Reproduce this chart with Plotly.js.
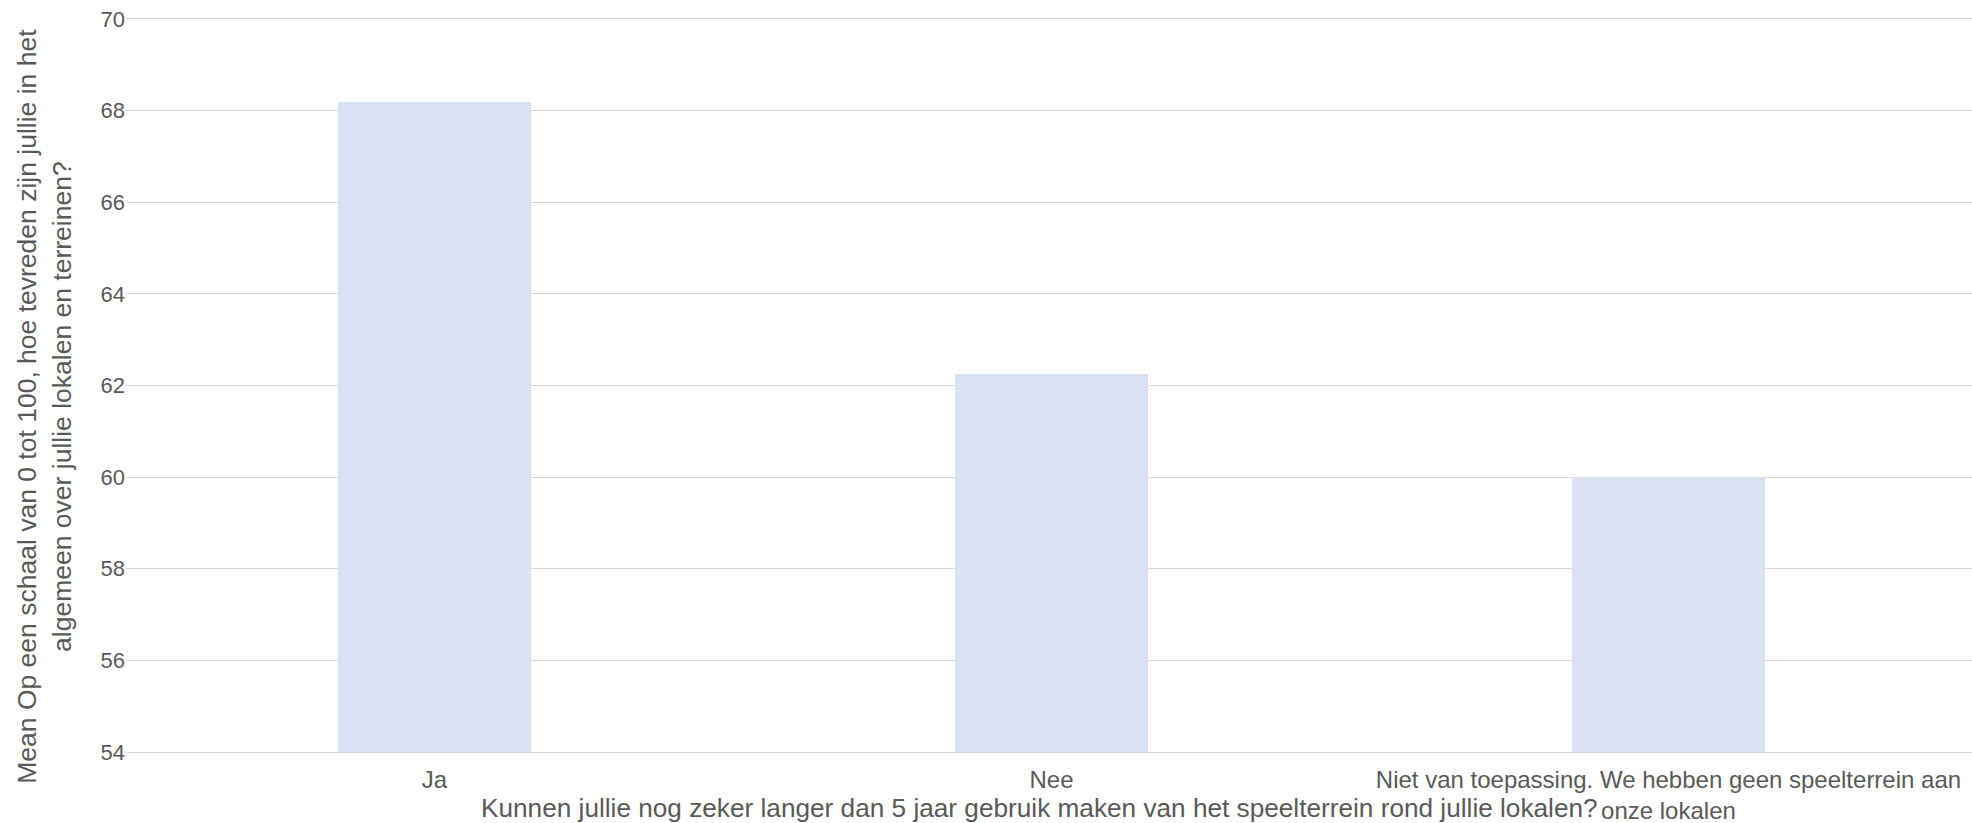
<!DOCTYPE html>
<html>
<head>
<meta charset="utf-8">
<script src="https://cdn.plot.ly/plotly-3.0.1.min.js"></script>
<style>html,body{margin:0;padding:0;background:#fff;}#chart{width:1972px;height:823px;}</style>
</head>
<body>
<div id="chart"></div>
<script>
const categories = ["Ja", "Nee", "Niet van toepassing. We hebben geen speelterrein aan<br>onze lokalen"];
const meanValues = [68.19, 62.25, 60.0];
const yTickValues = [54, 56, 58, 60, 62, 64, 66, 68, 70];
const xTitle = "Kunnen jullie nog zeker langer dan 5 jaar gebruik maken van het speelterrein rond jullie lokalen?";
const yTitle = "Mean Op een schaal van 0 tot 100, hoe tevreden zijn jullie in het<br>algemeen over jullie lokalen en terreinen?";

const textColor = "#595959";
const fontFamily = "Liberation Sans, Arial, sans-serif";

const trace = {
  type: "bar",
  x: categories,
  y: meanValues,
  width: 0.313,
  marker: {color: "#D9E2F3"},
  hoverinfo: "skip"
};

const layout = {
  width: 1972,
  height: 823,
  margin: {l: 126, r: 0, t: 19, b: 71, pad: 0},
  paper_bgcolor: "#ffffff",
  plot_bgcolor: "#ffffff",
  showlegend: false,
  font: {family: fontFamily, color: textColor, size: 23},
  xaxis: {
    type: "category",
    range: [-0.5, 2.492],
    showgrid: false,
    showline: true,
    mirror: true,
    linecolor: "#D9D9D9",
    linewidth: 1,
    ticks: "",
    ticklabelstandoff: 6,
    tickfont: {family: fontFamily, size: 24, color: textColor},
    automargin: false
  },
  yaxis: {
    range: [54, 70],
    tickvals: yTickValues,
    ticktext: yTickValues.map(String),
    showgrid: true,
    gridcolor: "#D9D9D9",
    gridwidth: 1,
    zeroline: false,
    showline: false,
    ticks: "",
    tickfont: {family: fontFamily, size: 22, color: textColor},
    automargin: false
  },
  annotations: [
    {
      text: xTitle,
      xref: "paper", yref: "paper",
      x: 0.4946, y: 0,
      xanchor: "center", yanchor: "top",
      yshift: -39,
      showarrow: false,
      font: {family: fontFamily, size: 26.2, color: textColor}
    },
    {
      text: yTitle,
      xref: "paper", yref: "paper",
      x: 0, y: 0.471,
      xanchor: "center", yanchor: "middle",
      xshift: -82,
      textangle: -90,
      showarrow: false,
      font: {family: fontFamily, size: 26.5, color: textColor}
    }
  ]
};

Plotly.newPlot("chart", [trace], layout, {displayModeBar: false, staticPlot: true});
</script>
</body>
</html>
